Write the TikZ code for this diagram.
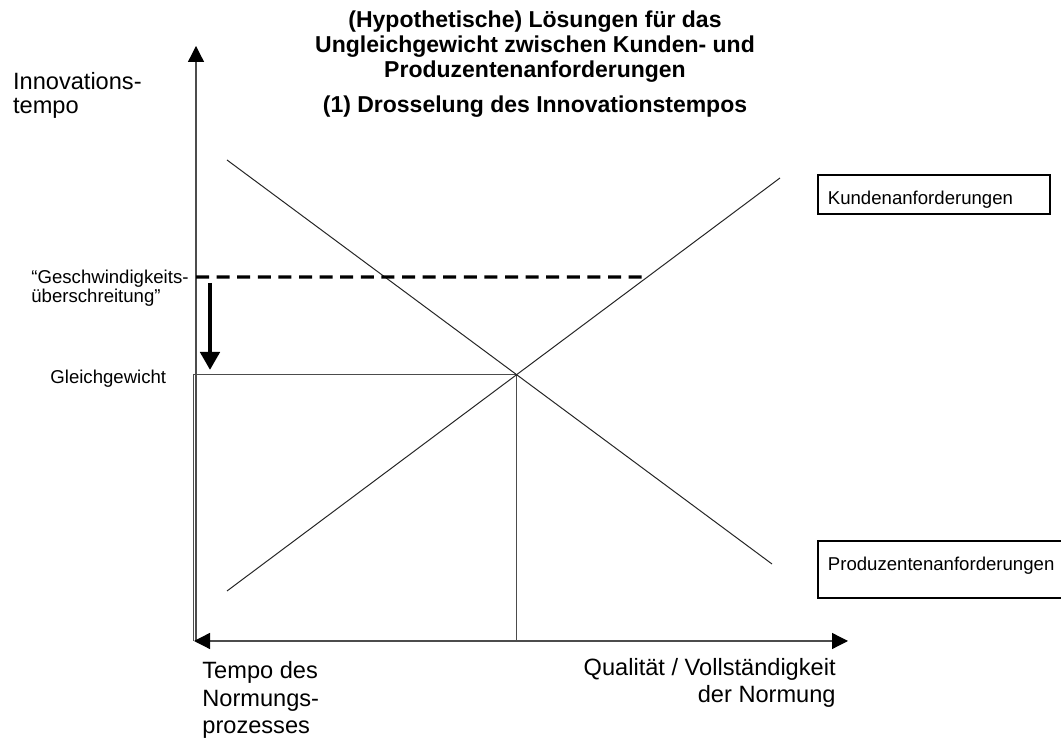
\documentclass[tikz,border=0pt]{standalone}
\usepackage{fontspec}
\setmainfont{Liberation Sans}
\usetikzlibrary{arrows.meta}
\tikzset{
  >={Triangle[width=8pt,length=8pt,color=black]},
}
\tikzstyle{axes}=[line width=0.65pt,black!70]
\tikzstyle{curve}=[line width=0.5pt,black!85]
\tikzstyle{speeding}=[line width=1.65pt,dash pattern=on 6.5pt off 3.8pt]
\tikzstyle{brake}=[line width=2.4pt,-{Triangle[width=9.5pt,length=9pt]}]
\tikzstyle{every node}=[inner sep=0pt]
\tikzstyle{axlbl}=[align=left,font=\fontsize{11.8}{13.9}\selectfont]
\tikzstyle{lbl}=[align=left,font=\fontsize{9.3}{8.6}\selectfont]
\tikzstyle{reqbox}=[draw,line width=0.9pt,inner xsep=5pt,inner ysep=1pt,anchor=south west,align=left,font=\fontsize{9.3}{11}\selectfont]

\begin{document}
\begin{tikzpicture}[x=0.5pt,y=0.5pt]
    \useasboundingbox (0,0) rectangle (1061,738);
    \coordinate (O) at (196,97);
    \coordinate (ytop) at (196,692);
    \coordinate (xl) at (194,97);
    \coordinate (xr) at (848,97);
    \coordinate (ku1) at (227,147);
    \coordinate (ku2) at (780,560);
    \coordinate (pr1) at (227,578);
    \coordinate (pr2) at (772,174);
    \coordinate (E) at (intersection of ku1--ku2 and pr1--pr2);
    \coordinate (gs) at (196,461);
    \coordinate (gsr) at (900,461);
    \coordinate (gse) at (intersection of ku1--ku2 and gs--gsr);
    \coordinate (br1) at (210,455);
    \coordinate (br2) at (210,368);
    \draw[axes] (193.8,97) |- (E) -- (E |- O);
    \draw[axes,->] (O) -- (ytop);
    \draw[axes,<->] (xl) -- (xr);
    \draw[curve] (ku1) -- (ku2);
    \draw[curve] (pr1) -- (pr2);
    \draw[speeding] (gs) -- (gse);
    \draw[brake] (br1) -- (br2);
    \node[font=\fontsize{11.5}{12.5}\selectfont\bfseries,align=center,anchor=base] (title) at (535,625)
      {(Hypothetische) Lösungen für das\\Ungleichgewicht zwischen Kunden- und\\Produzentenanforderungen\\[5pt](1) Drosselung des Innovationstempos};
    \node[axlbl,font=\fontsize{11.8}{12.35}\selectfont,anchor=base west] (ylab) at (12.7,624) {Innovations-\\tempo};
    \node[axlbl,anchor=base west] (xlab) at (202,4) {Tempo des\\Normungs-\\prozesses};
    \node[axlbl,align=right,anchor=base east] (qlab) at (836,35) {Qualität / Vollständigkeit\\der Normung};
    \node[lbl,anchor=base west] (speed) at (31,435.5) {“Geschwindigkeits-\\überschreitung”};
    \node[lbl,anchor=base west] (equi) at (50,354) {Gleichgewicht};
    \node[reqbox,text width=106pt,text height=13.5pt,text depth=4pt] (kunden) at (817,523) {Kundenanforderungen};
    \node[reqbox,text width=112.5pt,text height=13.5pt,text depth=13pt] (produzenten) at (817,139) {Produzentenanforderungen};
\end{tikzpicture}
\end{document}
